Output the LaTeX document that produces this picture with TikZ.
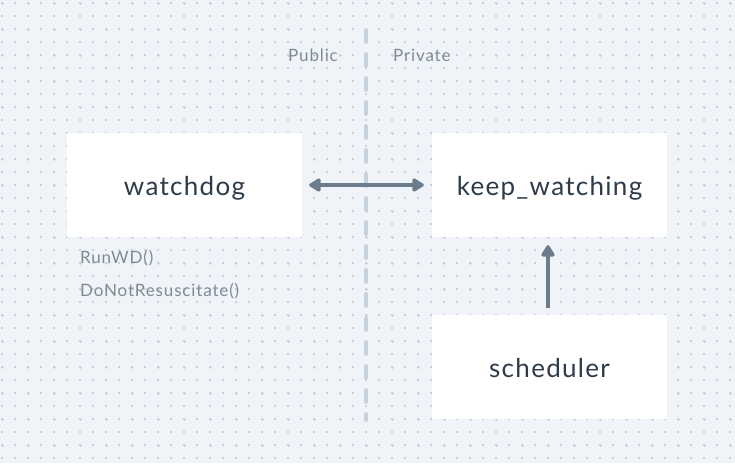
\documentclass[tikz,border=0pt]{standalone}
\usepackage{fontspec}
\setmainfont{Lato}[LetterSpace=5]
\usetikzlibrary{arrows.meta}
\definecolor{bgc}{HTML}{F0F4F8}
\definecolor{dotc}{HTML}{C8D0DA}
\definecolor{divc}{HTML}{C6D2DD}
\definecolor{arrc}{HTML}{6B7C8C}
\definecolor{txtc}{HTML}{2E3B4A}
\definecolor{lblc}{HTML}{7D8B99}
\tikzset{
  compbox/.style={fill=white, minimum width=235pt, minimum height=104pt, inner sep=0pt,
    text height=21pt, text depth=0pt,
    font=\fontsize{26}{30}\selectfont, text=txtc},
  sidelabel/.style={font=\fontsize{17}{20}\selectfont, text=lblc, inner sep=0pt},
  flow/.style={draw=arrc, line width=4.5pt, -{Triangle[length=13pt,width=15pt,round]}},
  biflow/.style={draw=arrc, line width=4.5pt, {Triangle[length=13pt,width=15pt,round]}-{Triangle[length=13pt,width=15pt,round]}},
  divider/.style={draw=divc, line width=4pt, line cap=round, dash pattern=on 12pt off 12pt}
}
\begin{document}
\begin{tikzpicture}[x=1pt,y=-1pt]
\fill[bgc] (0,0) rectangle (735,463);
\useasboundingbox (0,0) rectangle (735,463);
% dot grid
\foreach \i in {0,...,56} {
  \foreach \j in {0,...,35} {
    \fill[dotc] ({2+13*\i-0.6},{3+13*\j-0.6}) rectangle ++(1.2,1.2);
  }
}
\foreach \i in {0,...,28} {
  \foreach \j in {0,...,17} {
    \fill[dotc] ({2+26*\i-1.5},{3+26*\j-0.5}) rectangle ++(3,1);
    \fill[dotc] ({2+26*\i-0.5},{3+26*\j-1.5}) rectangle ++(1,3);
  }
}
% divider
\coordinate (dtop) at (366,30);
\coordinate (dbot) at (366,420);
\draw[divider] (dtop) -- (dbot);
% labels
\node[sidelabel, anchor=base east] (pub) at (338,61) {Public};
\node[sidelabel, anchor=base west] (priv) at (393,61) {Private};
% boxes
\node[compbox] (wd) at (184.5,185) {watchdog};
\node[compbox] (kw) at (549.5,185) {keep\_watching};
\node[compbox] (sch) at (549.5,367) {scheduler};
% methods
\node[sidelabel, anchor=base west] (m1) at (80,263) {RunWD()};
\node[sidelabel, anchor=base west] (m2) at (80,296) {DoNotResuscitate()};
% arrows
\draw[biflow, shorten <=7pt, shorten >=8pt] (wd.east) -- (kw.west);
\draw[flow, shorten <=7pt, shorten >=8pt] ([xshift=-1.5pt]sch.north) -- ([xshift=-1.5pt]kw.south);
\end{tikzpicture}
\end{document}
